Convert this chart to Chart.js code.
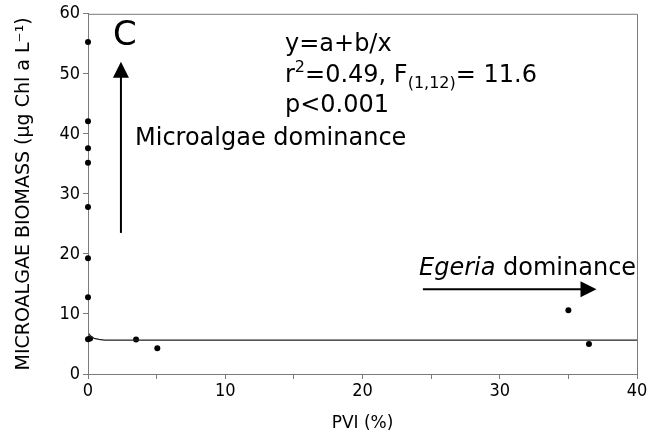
<!DOCTYPE html>
<html>
<head>
<meta charset="utf-8">
<script src="https://cdn.jsdelivr.net/npm/chart.js@4"></script>
<style>
  html, body { margin: 0; padding: 0; background: #fff; }
  #wrap { width: 652px; height: 434px; }
</style>
</head>
<body>
<div id="wrap"><canvas id="chart"></canvas></div>
<script>
// Observed points (PVI %, microalgae biomass)
const pviValues = [0, 0, 0, 0, 0, 0, 0, 0, 0.15, 3.5, 5.05, 35, 36.5];
const biomassValues = [55.3, 42.1, 37.6, 35.2, 27.8, 19.3, 12.8, 5.8, 5.9, 5.75, 4.3, 10.6, 5.0];

// Fitted curve y=a+b/x
const fitX = [0.08, 0.2, 0.45, 0.8, 1.2, 40];
const fitY = [6.7, 6.25, 5.95, 5.75, 5.65, 5.63];

// Axis ticks
const xTickLabels = ['0', '10', '20', '30', '40'];
const yTickLabels = ['0', '10', '20', '30', '40', '50', '60'];

const axisColor = '#7a7a7a';
const tickFont = { family: '"DejaVu Sans Condensed", "DejaVu Sans", sans-serif', size: 18 };

// Frame + text annotations + arrows
const annotations = {
    id: 'annotations',
    afterDraw(chart) {
        const ctx = chart.ctx;
        const area = chart.chartArea;
        const xs = chart.scales.x;
        const ys = chart.scales.y;

        // top and right border of the frame
        ctx.save();
        ctx.strokeStyle = axisColor;
        ctx.lineWidth = 1;
        ctx.beginPath();
        ctx.moveTo(area.left, area.top + 0.5);
        ctx.lineTo(area.right + 0.5, area.top + 0.5);
        ctx.lineTo(area.right + 0.5, area.bottom);
        ctx.stroke();

        ctx.fillStyle = '#000';
        ctx.textAlign = 'left';
        ctx.textBaseline = 'alphabetic';
        const fam = '"DejaVu Sans", sans-serif';

        // panel letter
        ctx.font = '34px ' + fam;
        ctx.fillText('C', 113, 45);

        // equation block
        ctx.font = '24px ' + fam;
        ctx.fillText('y=a+b/x', 285, 51);
        let x = 285;
        ctx.fillText('r', x, 81.7);
        x += ctx.measureText('r').width;
        ctx.font = '16px ' + fam;
        ctx.fillText('2', x, 72);
        x += ctx.measureText('2').width;
        ctx.font = '24px ' + fam;
        ctx.fillText('=0.49, F', x, 81.7);
        x += ctx.measureText('=0.49, F').width;
        ctx.font = '16px ' + fam;
        ctx.fillText('(1,12)', x, 88);
        x += ctx.measureText('(1,12)').width;
        ctx.font = '24px ' + fam;
        ctx.fillText('= 11.6', x, 81.7);
        ctx.fillText('p<0.001', 285, 111.7);

        ctx.fillText('Microalgae dominance', 135, 145);

        ctx.font = 'italic 24px ' + fam;
        ctx.fillText('Egeria', 419, 275);
        const ew = ctx.measureText('Egeria ').width;
        ctx.font = '24px ' + fam;
        ctx.fillText('dominance', 419 + ew, 275);

        // arrows (positions in data units)
        ctx.strokeStyle = '#000';
        ctx.lineWidth = 2;
        // vertical: microalgae
        const vx = xs.getPixelForValue(2.4);
        const vy0 = ys.getPixelForValue(23.5);
        const vy1 = ys.getPixelForValue(52.0);
        ctx.beginPath();
        ctx.moveTo(vx, vy0);
        ctx.lineTo(vx, vy1 + 14);
        ctx.stroke();
        ctx.beginPath();
        ctx.moveTo(vx, vy1);
        ctx.lineTo(vx - 8, vy1 + 16);
        ctx.lineTo(vx + 8, vy1 + 16);
        ctx.closePath();
        ctx.fill();
        // horizontal: Egeria
        const hy = ys.getPixelForValue(14.1);
        const hx0 = xs.getPixelForValue(24.4);
        const hx1 = xs.getPixelForValue(37.05);
        ctx.beginPath();
        ctx.moveTo(hx0, hy);
        ctx.lineTo(hx1 - 14, hy);
        ctx.stroke();
        ctx.beginPath();
        ctx.moveTo(hx1, hy);
        ctx.lineTo(hx1 - 16, hy - 8);
        ctx.lineTo(hx1 - 16, hy + 8);
        ctx.closePath();
        ctx.fill();
        ctx.restore();
    }
};

const pointData = pviValues.map((v, i) => ({ x: v, y: biomassValues[i] }));
const fitData = fitX.map((v, i) => ({ x: v, y: fitY[i] }));

new Chart(document.getElementById('chart'), {
    type: 'scatter',
    data: {
        datasets: [
            {
                label: 'fit',
                data: fitData,
                showLine: true,
                borderColor: '#222',
                borderWidth: 1.3,
                pointRadius: 0,
                tension: 0,
                clip: false
            },
            {
                label: 'observed',
                data: pointData,
                backgroundColor: '#000',
                borderColor: '#000',
                pointRadius: 3,
                borderWidth: 0,
                clip: false
            }
        ]
    },
    options: {
        responsive: true,
        maintainAspectRatio: false,
        animation: false,
        layout: { padding: { left: 0, right: 15, top: 6, bottom: 0 } },
        plugins: {
            legend: { display: false },
            tooltip: { enabled: false }
        },
        scales: {
            x: {
                type: 'linear',
                min: 0,
                max: 40,
                afterFit: s => { s.height = 60; },
                border: { display: true, color: axisColor, width: 1 },
                grid: { drawOnChartArea: false, drawTicks: true, tickLength: 5, color: axisColor },
                ticks: {
                    stepSize: 5,
                    autoSkip: false,
                    maxRotation: 0,
                    color: '#000',
                    font: tickFont,
                    padding: 2,
                    callback: v => (v % 10 === 0 ? xTickLabels[v / 10] : '')
                },
                title: {
                    display: true,
                    text: 'PVI (%)',
                    color: '#000',
                    font: { family: '"DejaVu Sans", sans-serif', size: 17 },
                    padding: { top: 3, bottom: 0 }
                }
            },
            y: {
                type: 'linear',
                min: 0,
                max: 60,
                afterFit: s => { s.width = 88; },
                border: { display: true, color: axisColor, width: 1 },
                grid: { drawOnChartArea: false, drawTicks: true, tickLength: 5, color: axisColor },
                ticks: {
                    stepSize: 10,
                    color: '#000',
                    font: tickFont,
                    padding: 3,
                    callback: v => yTickLabels[v / 10]
                },
                title: {
                    display: true,
                    text: 'MICROALGAE BIOMASS (\u00b5g Chl a L\u207b\u00b9)',
                    color: '#000',
                    font: { family: '"DejaVu Sans", sans-serif', size: 19 },
                    padding: { top: 13, bottom: 0 }
                }
            }
        }
    },
    plugins: [annotations]
});
</script>
</body>
</html>
